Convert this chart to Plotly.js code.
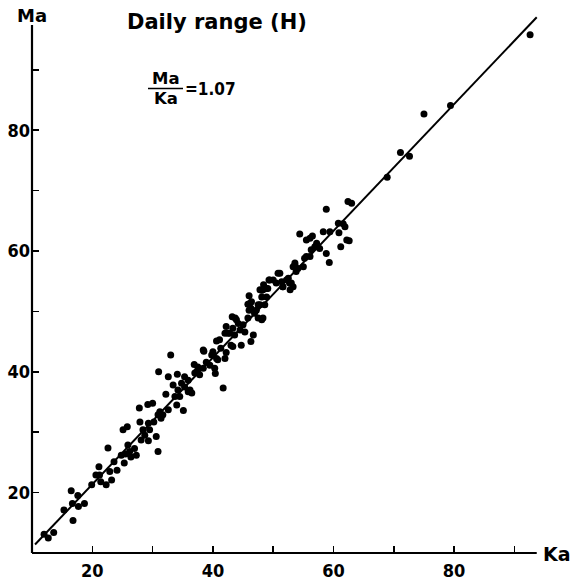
<!DOCTYPE html>
<html><head><meta charset="utf-8">
<script src="https://cdn.plot.ly/plotly-3.0.1.min.js"></script>
<style>html,body{margin:0;padding:0;background:#fff}</style>
</head><body><div id="chart" style="width:571px;height:581px"></div>
<script>
// Daily range (H): Ma against Ka
const kaValues = [
12.0,12.7,13.6,15.3,16.5,16.7,16.8,17.6,17.7,18.7,19.9,20.6,21.1,21.2,21.4,22.3,22.6,22.9,23.2,23.6,
24.1,24.8,25.1,25.3,25.5,25.8,25.9,26.2,26.4,27.0,27.3,27.8,27.9,28.1,28.4,28.7,29.2,29.3,29.5,30.0,
30.2,30.6,30.9,30.9,31.4,32.2,31.2,31.7,32.6,31.0,32.6,33.0,33.7,34.0,33.4,34.1,34.2,34.8,35.1,35.3,
35.9,36.5,35.3,35.9,34.5,36.9,37.0,37.8,37.5,38.4,38.5,38.9,39.5,40.3,40.4,41.7,40.6,41.1,41.3,42.0,
42.2,42.5,43.0,40.0,43.2,43.3,43.7,44.2,44.7,45.3,45.0,45.8,46.3,46.7,46.0,45.8,46.0,47.8,48.3,48.1,
48.6,49.3,44.5,42.2,43.6,43.3,46.3,47.2,46.9,48.6,48.9,48.4,50.0,50.8,50.5,51.4,51.6,52.8,52.5,53.0,
53.3,54.1,53.6,55.0,55.2,56.1,56.3,56.9,54.4,56.1,56.5,57.7,57.2,58.8,59.3,58.3,59.4,58.8,60.9,61.2,
60.8,62.2,62.6,61.9,62.4,63.0,55.5,53.8,68.9,71.1,72.6,75.0,79.4,92.6,
40.6,42.0,39.8,40.8,38.4,43.9,42.8,46.1,47.5,48.1,48.3,48.9,47.8,61.6,52.2,51.1,49.4,49.1,36.2,29.3,
37.3,46.4,47.5,48.1,53.6,55.5,52.7,53.3,51.6];
const maValues = [
13.1,12.5,13.4,17.1,20.3,18.2,15.4,19.5,17.7,18.2,21.3,22.9,24.3,22.9,21.8,21.3,27.4,23.5,22.1,25.1,
23.7,26.2,30.4,24.9,26.4,30.9,27.9,26.8,25.9,27.3,26.2,34.0,31.7,28.7,30.4,29.5,34.6,31.5,30.4,34.8,
31.7,29.3,26.8,32.9,32.3,36.3,33.4,32.9,33.7,40.0,39.2,42.8,35.9,34.5,37.8,39.6,37.0,38.1,33.6,37.5,
36.7,36.5,39.2,38.6,35.9,41.2,39.8,39.5,40.8,40.6,43.4,41.6,41.1,40.6,39.7,37.3,42.2,45.3,43.9,42.2,
43.2,46.4,44.4,43.3,49.1,47.2,48.9,48.0,44.4,46.6,47.8,48.9,45.0,46.1,52.6,51.2,50.2,51.1,48.9,53.5,
53.9,55.2,46.9,47.5,46.1,44.2,50.5,50.2,49.7,51.1,52.4,54.4,55.2,56.3,54.7,54.9,54.1,53.6,55.5,54.7,
57.4,57.1,57.7,57.4,58.8,59.1,60.2,60.7,62.8,62.1,62.5,60.4,61.3,59.6,58.1,63.2,63.2,66.9,63.0,60.7,
64.6,61.8,61.7,64.0,68.2,67.9,61.8,56.6,72.2,76.3,75.7,82.7,84.1,95.8,
45.1,46.4,42.8,42.0,43.6,48.6,46.4,51.3,51.1,48.6,53.6,53.8,53.6,64.5,55.2,56.3,55.2,53.8,37.0,28.6,
40.0,51.6,48.9,52.4,58.0,59.1,54.7,54.1,54.1];
// fitted line Ma/Ka = 1.07 (end points)
const fitKa = [10.5, 93.7];
const fitMa = [11.4, 98.7];
// ticks
const xTickVals = [20, 30, 40, 50, 60, 70, 80, 90];
const xTickText = ['20', '', '40', '', '60', '', '80', ''];
const yTickVals = [20, 30, 40, 50, 60, 70, 80, 90];
const yTickText = ['20', '', '40', '', '60', '', '80', ''];
const xAxisEnd = 93.7;
const yAxisEnd = 97.4;

const W = 571, H = 581;
const M = {l: 32, r: 2, t: 15, b: 28};
const xRange = [10, 99.05];
const yRange = [10, 99.07];
const px = v => (v - xRange[0]) / (xRange[1] - xRange[0]);
const py = v => (v - yRange[0]) / (yRange[1] - yRange[0]);
const X = p => (p - M.l) / (W - M.l - M.r);          // pixel -> paper
const Y = p => (H - M.b - p) / (H - M.t - M.b);

const FONT = 'DejaVu Sans, sans-serif';
const FONTC = 'DejaVu Sans Condensed, DejaVu Sans, sans-serif';
const ann = (text, x, y, size, fam, xa) => ({text, xref: 'paper', yref: 'paper',
  x: X(x), y: Y(y), xanchor: xa || 'center', yanchor: 'middle', showarrow: false,
  font: {family: fam, size, weight: 'bold', color: '#000'}});

const traces = [
  {x: fitKa, y: fitMa, type: 'scatter', mode: 'lines',
   line: {color: '#000', width: 2}, hoverinfo: 'skip'},
  {x: kaValues, y: maValues, type: 'scatter', mode: 'markers',
   marker: {color: '#000', size: 7, line: {width: 0}}}
];
const tickfont = {family: FONTC, size: 18, weight: 'bold', color: '#000'};
const layout = {
  width: W, height: H, margin: M, showlegend: false,
  paper_bgcolor: '#fff', plot_bgcolor: '#fff',
  font: {family: FONT, color: '#000'},
  xaxis: {range: xRange, showgrid: false, zeroline: false, showline: false,
    tickmode: 'array', tickvals: xTickVals, ticktext: xTickText,
    ticks: 'inside', ticklen: 7, tickwidth: 1.6, tickcolor: '#000',
    tickfont: tickfont, ticklabelstandoff: 5},
  yaxis: {range: yRange, showgrid: false, zeroline: false, showline: false,
    tickmode: 'array', tickvals: yTickVals, ticktext: yTickText,
    ticks: 'inside', ticklen: 7, tickwidth: 1.6, tickcolor: '#000',
    tickfont: tickfont, ticklabelstandoff: 1},
  shapes: [
    {type: 'line', xref: 'paper', yref: 'paper', x0: 0, x1: px(xAxisEnd), y0: 0, y1: 0,
     line: {color: '#000', width: 2.2}},
    {type: 'line', xref: 'paper', yref: 'paper', x0: 0, x1: 0, y0: 0, y1: py(yAxisEnd),
     line: {color: '#000', width: 2.2}},
    {type: 'line', xref: 'paper', yref: 'paper', x0: X(148), x1: X(183), y0: Y(88.5), y1: Y(88.5),
     line: {color: '#000', width: 1.6}}
  ],
  annotations: [
    ann('Daily range (H)', 217, 21.5, 21, FONT),
    ann('Ma', 31.5, 15.5, 18, FONT),
    ann('Ka', 557, 554, 19, FONT),
    ann('Ma', 165.5, 78.5, 16.5, FONT),
    ann('Ka', 165.5, 98.5, 16.5, FONT),
    ann('=1.07', 183, 88.5, 17, FONTC, 'left')
  ]
};
Plotly.newPlot('chart', traces, layout, {displayModeBar: false, staticPlot: true});
</script></body></html>
